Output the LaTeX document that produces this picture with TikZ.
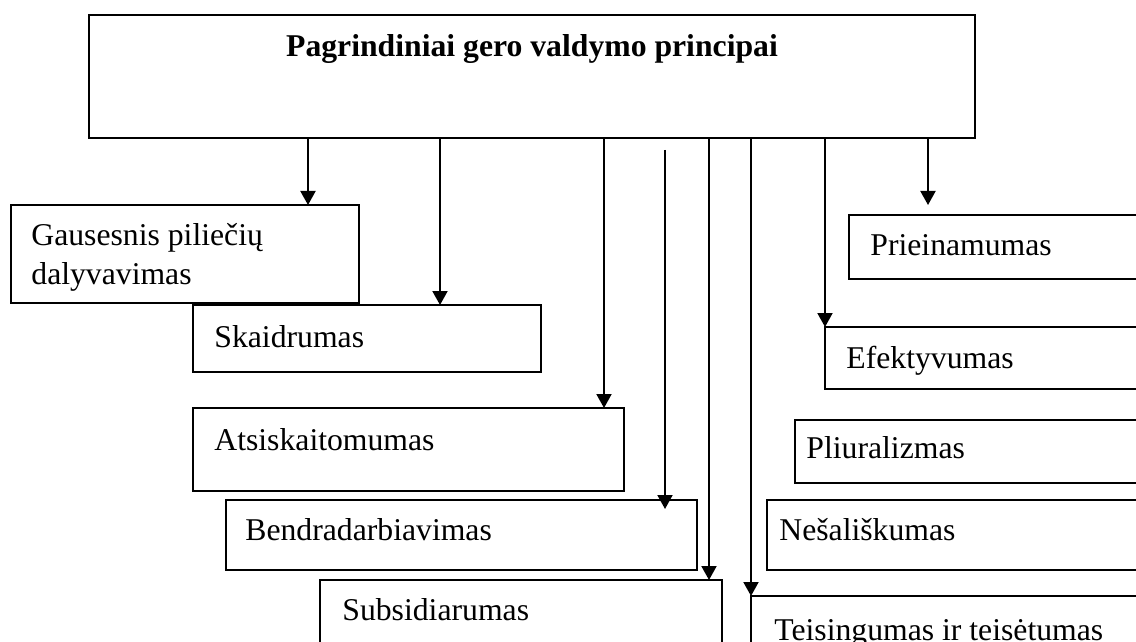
\documentclass[tikz,border=0pt]{standalone}
\usepackage{fontspec}
\setmainfont{Liberation Serif}
\usetikzlibrary{arrows.meta}
\begin{document}
\begin{tikzpicture}[x=0.5pt,y=-0.5pt,
  box/.style={draw, line width=1pt, anchor=north west, inner sep=0pt, outer sep=0pt},
  lbl/.style={anchor=base west, inner sep=0pt, font=\fontsize{15.85}{19}\selectfont},
  arr/.style={line width=1pt, -{Triangle[width=7.5pt,length=7pt]}}]
\useasboundingbox (0,0) rectangle (1136,642);
\clip (0,0) rectangle (1136,642);
% boxes
\node[box, minimum width=443pt, minimum height=61.5pt] (top) at (89,15) {};
\node[box, minimum width=174pt, minimum height=49pt] (gaus) at (11,205) {};
\node[box, minimum width=174pt, minimum height=33.5pt] (skaid) at (193,305) {};
\node[box, minimum width=215.5pt, minimum height=41.5pt] (atsis) at (193,408) {};
\node[box, minimum width=235.5pt, minimum height=35pt] (bendr) at (226,500) {};
\node[box, minimum width=201pt, minimum height=40pt] (subs) at (320,580) {};
\node[box, minimum width=150pt, minimum height=32pt] (priei) at (849,215) {};
\node[box, minimum width=160pt, minimum height=31pt] (efekt) at (825,327) {};
\node[box, minimum width=175pt, minimum height=31.5pt] (pliur) at (795,420) {};
\node[box, minimum width=190pt, minimum height=35pt] (nesal) at (767,500) {};
\node[box, minimum width=200pt, minimum height=30pt] (teis) at (751,596) {};
% texts
\node[lbl, anchor=base, font=\fontsize{15.85}{19}\selectfont\bfseries] (ttitle) at (532,57) {Pagrindiniai gero valdymo principai};
\node[lbl] (tgaus1) at (31,245) {Gausesnis piliečių};
\node[lbl] (tgaus2) at (31,285) {dalyvavimas};
\node[lbl] (tskaid) at (214,347) {Skaidrumas};
\node[lbl] (tatsis) at (214,450) {Atsiskaitomumas};
\node[lbl] (tbendr) at (245,540) {Bendradarbiavimas};
\node[lbl] (tsubs) at (342,620) {Subsidiarumas};
\node[lbl] (tpriei) at (870,256) {Prieinamumas};
\node[lbl] (tefekt) at (846,368) {Efektyvumas};
\node[lbl] (tpliur) at (806,458) {Pliuralizmas};
\node[lbl] (tnesal) at (779,540) {Nešališkumas};
\node[lbl] (tteis) at (774,640) {Teisingumas ir teisėtumas};
% arrow x positions
\coordinate (x1) at (308,0);
\coordinate (x2) at (440,0);
\coordinate (x3) at (604,0);
\coordinate (x4) at (665,0);
\coordinate (x5) at (709,0);
\coordinate (x6) at (751,0);
\coordinate (x7) at (825,0);
\coordinate (x8) at (928,0);
% arrows
\draw[arr] (top.south -| x1) -- (gaus.north -| x1);
\draw[arr] (top.south -| x2) -- (skaid.north -| x2);
\draw[arr] (top.south -| x3) -- (atsis.north -| x3);
\draw[arr, shorten <=6pt, shorten >=-4.5pt] (top.south -| x4) -- (bendr.north -| x4);
\draw[arr] (top.south -| x5) -- (subs.north -| x5);
\draw[arr] (top.south -| x6) -- (teis.north -| x6);
\draw[arr] (top.south -| x7) -- (efekt.north -| x7);
\draw[arr, shorten >=5pt] (top.south -| x8) -- (priei.north -| x8);
\end{tikzpicture}
\end{document}
